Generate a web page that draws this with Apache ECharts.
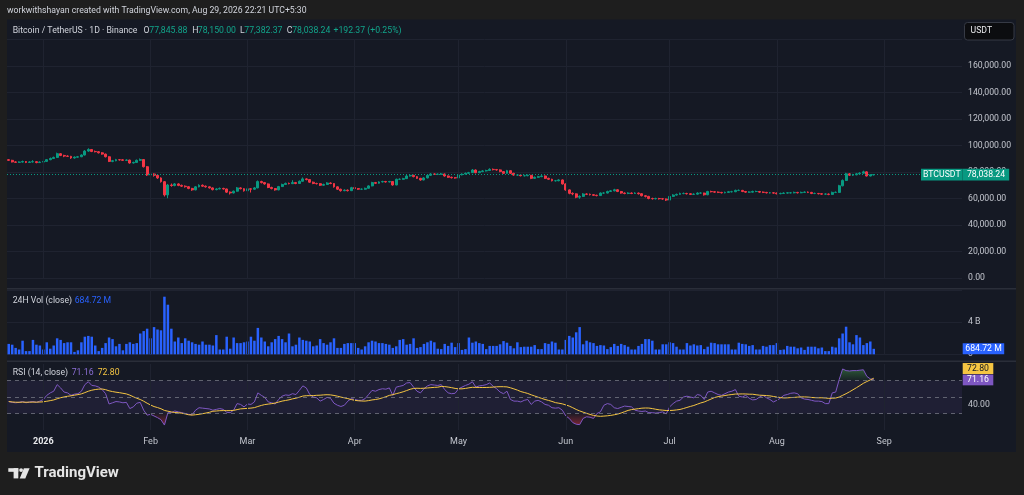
<!DOCTYPE html>
<html><head><meta charset="utf-8">
<script src="https://cdn.jsdelivr.net/npm/echarts@6/dist/echarts.min.js"></script>
<style>html,body{margin:0;padding:0;background:#1e1e1e;}#c{width:1024px;height:495px;}</style>
</head><body><div id="c"></div>
<script>
// ---------- data (prices in thousands USDT, volume in billions) ----------
const startDate = '2025-12-22';
const dayCount = 276;
const monthTicks = ['2026-01-01','2026-02-01','2026-03-01','2026-04-01','2026-05-01','2026-06-01','2026-07-01','2026-08-01','2026-09-01'];
const monthLabels = ['2026','Feb','Mar','Apr','May','Jun','Jul','Aug','Sep'];
const priceTicks = [0,20,40,60,80,100,120,140,160,180];
const firstOpen = 89.3;
const closes = [
88.8,87.6,87.3,87.5,87.9,87.2,87.6,87.8,87.1,87.5,
88.0,89.3,90.2,91.0,93.8,92.5,92.0,91.8,90.6,91.2,
91.5,92.8,95.8,97.0,95.5,95.3,94.5,93.5,91.5,88.0,
88.5,89.3,89.2,88.8,89.0,86.8,87.2,88.8,89.4,84.0,
77.8,78.5,77.5,75.5,72.7,62.7,70.2,69.8,71.0,69.9,
69.3,68.9,67.6,66.5,68.8,70.0,69.3,68.8,68.0,66.7,
67.2,67.6,67.2,64.8,64.2,65.5,68.0,67.4,65.8,67.3,
67.0,68.0,72.8,72.0,71.0,68.3,67.5,66.5,69.0,70.6,
71.4,71.2,72.0,71.3,73.0,74.8,74.3,72.3,71.3,71.2,
70.0,70.6,71.7,71.3,68.8,67.0,65.9,66.3,65.9,68.2,
67.5,67.0,67.0,67.7,69.5,72.0,71.5,72.5,72.8,72.5,
72.8,70.2,74.5,74.5,75.0,77.0,77.5,76.5,75.2,74.0,
75.5,77.5,78.5,78.3,78.3,78.5,77.0,76.0,75.7,75.5,
77.8,78.5,79.0,79.5,81.5,79.5,80.3,80.8,81.1,82.0,
81.8,81.6,80.3,79.0,81.0,79.0,77.7,77.7,77.2,77.2,
77.5,75.2,76.0,76.5,77.0,75.2,74.5,73.4,73.4,74.0,
71.0,66.5,63.9,63.5,61.0,61.6,63.4,63.2,62.9,62.4,
62.2,64.1,64.1,65.3,65.8,66.6,65.3,64.1,63.8,64.1,
63.8,64.1,63.6,62.1,61.6,60.0,59.8,60.0,59.8,59.6,
58.8,61.6,62.6,63.1,63.8,63.8,63.6,63.1,63.3,64.1,
64.1,62.8,65.3,65.1,64.8,64.6,64.3,64.6,65.1,65.1,
66.1,66.1,65.3,64.8,64.8,65.3,65.3,64.8,64.6,64.3,
64.3,64.1,63.6,63.8,64.1,64.3,64.3,64.6,64.3,64.6,
64.8,64.6,63.8,63.8,63.6,63.3,63.3,63.1,64.6,64.6,
69.6,73.6,78.6,77.6,77.9,78.6,79.1,80.1,77.0,77.84588,
78.03824];
const highs = [
89.8,89.2,88.1,88.0,88.6,88.3,88.2,88.9,88.2,88.0,
88.6,89.8,90.9,91.6,94.6,94.3,93.0,92.6,92.2,91.8,
92.1,93.3,96.5,97.9,97.3,96.2,95.8,95.0,93.9,91.9,
89.1,89.9,89.8,89.7,89.6,89.3,87.8,89.4,90.2,89.8,
84.5,79.6,79.0,78.1,76.0,73.2,71.0,71.3,71.7,71.5,
70.5,69.9,69.3,68.0,69.4,70.7,70.6,69.8,69.2,68.4,
67.8,68.3,68.1,67.5,65.3,66.0,68.7,68.5,67.8,67.9,
67.8,68.6,73.6,73.4,72.5,71.4,68.9,67.9,69.5,71.2,
72.0,72.0,73.8,72.5,73.6,75.9,75.3,74.7,72.8,71.9,
71.6,71.2,72.3,72.2,71.6,69.2,67.4,66.9,66.8,68.8,
68.7,67.9,67.6,68.2,70.0,72.6,72.5,73.0,73.4,73.3,
73.3,73.1,75.0,75.2,75.6,77.8,78.2,77.9,76.9,75.6,
76.0,78.0,79.1,78.9,78.9,79.3,78.8,77.4,76.5,76.2,
78.3,79.0,79.6,80.1,82.2,81.9,80.9,81.4,81.7,82.8,
82.6,82.3,82.0,80.7,81.6,81.3,79.4,78.4,78.2,77.9,
78.1,77.8,76.6,77.1,77.6,77.4,75.7,74.9,74.0,74.6,
74.4,71.4,66.9,64.6,63.9,62.4,64.0,63.9,63.7,63.3,
62.9,64.6,64.8,65.9,66.4,67.3,67.0,65.7,64.6,64.7,
64.6,64.7,64.5,64.0,62.6,62.0,60.6,60.6,60.5,60.4,
60.0,62.1,63.2,63.7,64.4,64.5,64.3,64.0,63.9,64.7,
64.7,64.4,65.8,65.9,65.6,65.3,65.0,65.2,65.7,65.8,
66.7,66.8,66.5,65.7,65.4,65.9,65.9,65.7,65.3,65.0,
64.9,64.8,64.5,64.4,64.7,64.9,64.9,65.2,65.0,65.2,
65.4,65.3,65.0,64.4,64.2,64.0,63.9,63.8,65.2,65.3,
70.3,74.4,79.4,79.2,78.6,79.3,79.8,81.0,80.5,78.3,
78.15];
const lows = [
88.3,87.2,86.8,86.9,87.1,86.7,86.9,87.2,86.6,86.8,
87.2,87.7,88.9,89.8,90.7,92.0,91.2,91.3,89.9,90.1,
90.8,91.2,92.5,95.2,95.0,94.8,94.0,93.0,91.0,87.5,
87.4,88.1,88.6,88.3,88.4,86.3,86.4,86.9,88.4,83.4,
77.0,76.8,76.5,74.8,72.0,61.5,60.2,68.9,69.2,69.3,
68.7,68.2,67.0,65.8,66.2,68.4,68.8,68.2,67.5,66.1,
66.2,66.9,66.7,64.2,63.0,63.8,65.2,66.9,65.2,65.4,
64.5,66.6,67.7,71.4,70.4,67.8,66.9,65.9,66.2,68.7,
70.2,70.7,70.9,70.8,71.0,72.7,73.7,71.8,70.8,70.6,
69.4,69.6,70.3,70.8,68.2,66.4,65.2,65.5,65.3,65.6,
67.0,66.5,66.4,66.6,67.4,69.2,71.0,71.2,72.1,72.0,
72.1,69.7,70.0,74.0,74.2,74.7,76.6,76.0,74.7,73.4,
73.7,75.2,77.1,77.8,77.7,77.9,76.5,75.5,75.1,75.0,
75.2,77.4,78.1,78.6,79.2,79.0,79.1,79.9,80.4,80.8,
81.2,81.0,79.8,78.5,78.7,78.5,77.2,77.1,76.7,76.6,
76.8,74.6,74.8,75.6,76.1,74.7,74.0,72.9,72.8,73.0,
70.5,65.9,63.2,62.5,60.2,59.8,61.2,62.6,62.3,61.9,
61.6,61.9,63.5,63.8,64.9,65.4,64.8,63.6,63.2,63.3,
63.3,63.4,63.0,61.6,60.8,59.4,59.2,59.3,59.2,59.0,
58.1,58.5,61.2,62.2,62.8,63.2,63.0,62.6,62.7,62.9,
63.5,62.2,62.5,64.6,64.3,64.1,63.8,63.9,64.2,64.6,
64.8,65.6,64.8,64.3,64.3,64.5,64.8,64.3,64.1,63.8,
63.8,63.6,63.1,63.2,63.4,63.7,63.8,63.9,63.8,64.0,
64.2,64.1,63.3,63.3,63.1,62.8,62.8,62.5,62.8,64.1,
64.3,69.2,73.2,77.0,77.1,77.5,78.2,78.8,76.6,76.7,
77.38237];
const volumes = [
1.3,1.2,0.8,0.6,1.7,0.4,0.4,1.8,1.2,1.1,
0.6,1.5,0.7,1.1,2.0,1.8,1.4,1.5,1.5,0.3,
0.5,1.5,2.2,2.3,2.2,1.1,0.4,0.8,1.4,2.1,
1.9,1.0,1.3,0.5,1.3,1.5,1.3,1.4,2.6,2.9,
3.2,2.0,3.4,3.1,3.0,7.2,6.2,3.2,1.6,2.1,
1.4,2.0,1.7,1.5,1.3,1.2,1.6,1.2,1.2,1.1,
2.4,0.6,0.6,2.2,0.7,2.1,1.4,1.4,1.5,1.6,
2.2,1.7,3.3,2.1,1.6,1.0,1.5,1.9,2.3,1.9,
1.5,2.6,1.0,1.2,2.1,1.8,1.7,1.6,1.0,1.1,
1.9,1.4,1.2,1.5,2.0,0.8,0.8,1.3,1.4,1.4,
1.4,0.8,0.6,1.0,1.5,1.7,1.6,1.4,1.4,1.3,
1.2,0.8,1.0,1.8,1.9,1.2,1.3,2.0,0.8,0.9,
1.3,1.5,1.7,1.5,0.7,0.65,1.3,1.05,1.45,0.9,
1.4,0.55,0.65,2.1,1.45,1.6,1.4,1.3,0.65,1.05,
1.05,1.05,1.25,1.65,1.45,1.05,0.75,1.5,0.9,0.95,
0.95,0.95,1.15,0.65,0.65,1.4,1.3,1.6,1.45,0.6,
0.6,1.8,2.3,2.1,2.75,3.4,1.25,1.7,1.5,1.4,
1.05,1.15,1.1,0.65,0.9,1.3,1.05,1.3,1.15,0.95,
0.6,0.6,1.05,1.3,1.9,1.9,1.7,0.6,0.6,1.25,
1.25,1.5,1.4,0.95,0.6,0.6,1.4,1.1,1.25,1.1,
1.15,0.65,0.95,1.45,1.4,1.25,1.25,1.25,1.25,0.6,
0.6,1.45,1.3,1.25,1.05,1.15,0.6,0.6,1.05,0.95,
1.15,1.15,1.4,0.55,0.6,1.05,0.95,0.95,0.75,0.85,
0.55,0.95,0.95,0.95,0.75,0.85,0.4,0.4,0.95,0.85,
2.0,2.6,3.45,1.5,1.25,2.4,2.1,1.15,1.4,1.6,
0.68472];
const rsi = [
44.5,43.5,43,43.5,44.5,43,44,44.5,43.5,45,
47,52,55,57,65,61,56,55,52,53.5,
54,57,65,68.5,64,63.5,62,59,54,41.5,
43,44.5,44,43,43.5,36,38,42.5,43.5,34,
28,29,27,25,22.5,16,31,31,33,32,
31,30,29,28.5,34,37,36.5,36,35.5,34,
35,36,35,31.5,31,34,42,41,38,41.5,
41,44,55,52,49.5,44,43,41.5,47,51,
52.5,52,54,53,58,63.5,61,53,50,49,
45,47,49.5,48.5,42.5,40,38.5,40,45,48,
47,46,46,48,53,58,57,59,60,59.5,
61,52,62,63,64,67,67.5,62,57,55,
60,63.5,65,64.5,64,65,59,55,54,54.5,
60,62,64,65.5,68.5,62,63.5,64,65,67,
63,60,56,54,57,47,45,45,44,46,
47,41,45,46,44,41,40,37,36.5,37,
34,27,24,19,17,16.5,24,26,25.5,24,
30,32,40,42,41,37,36,37.5,39,38.5,
38,34,33,32.5,33,31,31,30.5,31,32,
29.5,38,42,45,46,50,51,50,49,53,
52,47,56,57,55,53,52,54,56,57,
59,51,50,52,48.5,46.5,47,50,52,49,
47,44,46,48.5,52,53,54.5,55,54,49,
47.5,47,46,45,45,44.5,42,42,55,56,
71,84,82,81.5,82,82,82.5,83,75,72,
71.16];

// ---------- derived tables ----------
const dates = [];
const d0 = new Date(startDate + 'T00:00:00Z');
for (let i = 0; i < dayCount; i++) dates.push(new Date(d0.getTime() + i * 86400000).toISOString().slice(0, 10));
const monthIdx = monthTicks.map(t => dates.indexOf(t));
const labelOf = {};
monthTicks.forEach((t, k) => labelOf[t] = monthLabels[k]);
const candles = closes.map((c, i) => [i === 0 ? firstOpen : closes[i - 1], c, lows[i], highs[i]]);
const rsiMA = rsi.map((v, i) => { const s = rsi.slice(Math.max(0, i - 13), i + 1); return s.reduce((a, b) => a + b, 0) / s.length; });
const rsiOB = rsi.map(v => Math.max(v, 70));
const rsiOS = rsi.map(v => Math.min(v, 30));
const last = closes.length - 1;
const fmt = v => v.toLocaleString('en-US', {minimumFractionDigits: 2, maximumFractionDigits: 2});

const GRID = '#1f2330';
const FONT = 'Roboto';
const vLines = monthIdx.map(i => ({xAxis: i, lineStyle: {color: GRID, width: 1, type: 'solid'}}));
const baseML = {silent: true, symbol: ['none', 'none'], label: {show: false}, animation: false, emphasis: {disabled: true}};

const xAx = k => ({
  type: 'category', gridIndex: k, data: dates, boundaryGap: true,
  axisLine: {show: false}, axisTick: {show: false}, splitLine: {show: false},
  axisPointer: {show: false},
  axisLabel: k === 2 ? {
    show: true, margin: 7, fontSize: 9, fontFamily: FONT, color: '#c3c6ce',
    interval: (idx, val) => labelOf[val] !== undefined,
    formatter: val => labelOf[val] === '2026' ? '{y|2026}' : (labelOf[val] || ''),
    rich: {y: {fontWeight: 'bold', color: '#e8e9ec', fontSize: 9, fontFamily: FONT}}
  } : {show: false}
});

const option = {
  backgroundColor: '#1e1e1e',
  animation: false,
  textStyle: {fontFamily: FONT},
  grid: [
    {left: 7, right: 62, top: 39.5, height: 238.5, outerBoundsMode: 'none'},
    {left: 7, right: 62, top: 290.3, height: 64, outerBoundsMode: 'none'},
    {left: 7, right: 62, top: 364, height: 66, outerBoundsMode: 'none'}
  ],
  xAxis: [xAx(0), xAx(1), xAx(2)],
  yAxis: [
    {type: 'value', gridIndex: 0, position: 'right', min: priceTicks[0], max: priceTicks[priceTicks.length - 1], interval: 20,
     axisLine: {show: false}, axisTick: {show: false},
     axisLabel: {margin: 6, align: 'left', fontSize: 8.7, fontFamily: FONT, color: '#c3c6ce', showMaxLabel: false,
       formatter: v => v >= 180 ? '' : fmt(v * 1000)},
     splitLine: {show: true, lineStyle: {color: GRID, width: 1}}},
    {type: 'value', gridIndex: 1, position: 'right', min: 0, max: 8, interval: 4,
     axisLine: {show: false}, axisTick: {show: false},
     axisLabel: {margin: 6, align: 'left', fontSize: 8.7, fontFamily: FONT, color: '#c3c6ce', showMaxLabel: false,
       formatter: v => v === 4 ? '4 B' : (v === 0 ? '0' : '')},
     splitLine: {show: true, lineStyle: {color: GRID, width: 1}}},
    {type: 'value', gridIndex: 2, position: 'right', min: 10, max: 90, interval: 10,
     axisLine: {show: false}, axisTick: {show: false},
     axisLabel: {margin: 6, align: 'left', fontSize: 8.7, fontFamily: FONT, color: '#c3c6ce',
       formatter: v => v === 40 ? '40.00' : ''},
     splitLine: {show: false}}
  ],
  series: [
    {type: 'candlestick', xAxisIndex: 0, yAxisIndex: 0, data: candles, barWidth: '70%', silent: true,
     itemStyle: {color: '#089981', color0: '#f23645', borderColor: '#089981', borderColor0: '#f23645', borderWidth: 1},
     markLine: Object.assign({}, baseML, {data: vLines.concat([{yAxis: closes[last], lineStyle: {color: '#089981', width: 1, type: [1, 2]}}])})},
    {type: 'bar', xAxisIndex: 1, yAxisIndex: 1, data: volumes, barWidth: '72%', silent: true,
     itemStyle: {color: '#2962ff'},
     markLine: Object.assign({}, baseML, {data: vLines})},
    {type: 'line', xAxisIndex: 2, yAxisIndex: 2, data: rsiOS, symbol: 'none', silent: true, z: 2,
     lineStyle: {width: 0}, areaStyle: {origin: 30, color: new echarts.graphic.LinearGradient(0, 0, 0, 1, [
       {offset: 0, color: 'rgba(242,54,69,0.05)'}, {offset: 1, color: 'rgba(242,54,69,0.65)'}])}},
    {type: 'line', xAxisIndex: 2, yAxisIndex: 2, data: rsiOB, symbol: 'none', silent: true, z: 2,
     lineStyle: {width: 0}, areaStyle: {origin: 70, color: new echarts.graphic.LinearGradient(0, 0, 0, 1, [
       {offset: 0, color: 'rgba(76,175,80,0.6)'}, {offset: 1, color: 'rgba(76,175,80,0.08)'}])}},
    {type: 'line', xAxisIndex: 2, yAxisIndex: 2, data: rsi, symbol: 'none', silent: true, z: 3,
     lineStyle: {color: '#7e57c2', width: 1},
     markArea: {silent: true, itemStyle: {color: 'rgba(126,87,194,0.1)'}, data: [[{yAxis: 30}, {yAxis: 70}]]},
     markLine: Object.assign({}, baseML, {data: vLines.concat([70, 50, 30].map(v => ({yAxis: v, lineStyle: {color: 'rgba(120,123,134,0.75)', width: 1, type: [4, 4]}})))})},
    {type: 'line', xAxisIndex: 2, yAxisIndex: 2, data: rsiMA, symbol: 'none', silent: true, z: 4,
     lineStyle: {color: '#f5c542', width: 1}}
  ]
};

const chart = echarts.init(document.getElementById('c'));
chart.setOption(option);

// ---------- overlay texts / labels ----------
function txt(x, y, s, fill, font, align) {
  return {type: 'text', x: x, y: y, z: 60, silent: true,
    style: {text: s, fill: fill, font: font, textAlign: align || 'left', textVerticalAlign: 'middle', align: align || 'left', verticalAlign: 'middle'}};
}
function box(x, y, w, h, fill) {
  return {type: 'rect', z: 55, silent: true, shape: {x: x, y: y, width: w, height: h}, style: {fill: fill}};
}
const F = '8.7px ' + FONT;
const UP = '#12a58b';
const pY = chart.convertToPixel({yAxisIndex: 0}, closes[last]);
const vY = chart.convertToPixel({yAxisIndex: 1}, volumes[last]);
const rY = chart.convertToPixel({yAxisIndex: 2}, rsi[last]);
const G = [
  {type: 'rect', z: -100, silent: true, shape: {x: 7, y: 19.5, width: 1009, height: 432.5}, style: {fill: '#151924'}},
  {type: 'line', z: 50, silent: true, shape: {x1: 7, y1: 288.8, x2: 1016, y2: 288.8}, style: {stroke: '#2a2e39', lineWidth: 1.5}},
  {type: 'line', z: 50, silent: true, shape: {x1: 7, y1: 361.2, x2: 1016, y2: 361.2}, style: {stroke: '#2a2e39', lineWidth: 1.5}},
  txt(7, 11, 'workwithshayan created with TradingView.com, Aug 29, 2026 22:21 UTC+5:30', '#d1d4dc', F),
  txt(12.7, 31, 'Bitcoin / TetherUS · 1D · Binance', '#d1d4dc', F),
  txt(143.5, 31, 'O', '#d1d4dc', F), txt(149.3, 31, fmt(candles[last][0] * 1000), UP, F),
  txt(192.3, 31, 'H', '#d1d4dc', F), txt(197.8, 31, fmt(highs[last] * 1000), UP, F),
  txt(240, 31, 'L', '#d1d4dc', F), txt(244.3, 31, fmt(lows[last] * 1000), UP, F),
  txt(286.7, 31, 'C', '#d1d4dc', F), txt(292.2, 31, fmt(closes[last] * 1000), UP, F),
  txt(333.5, 31, '+192.37 (+0.25%)', UP, F),
  txt(12.7, 300.5, '24H Vol (close)', '#d1d4dc', F),
  txt(74.7, 300.5, fmt(volumes[last] * 1000) + ' M', '#2962ff', F),
  txt(12.7, 372.7, 'RSI (14, close)', '#d1d4dc', F),
  txt(71.7, 372.7, rsi[last].toFixed(2), '#8c6fd6', F),
  txt(97.7, 372.7, rsiMA[last].toFixed(2), '#f5c542', F),
  // USDT button
  {type: 'rect', z: 55, silent: true, shape: {x: 964.5, y: 22.5, width: 49.5, height: 17.5, r: 3}, style: {fill: '#0c0d10', stroke: '#363a45', lineWidth: 1}},
  txt(970.5, 31.3, 'USDT', '#e8e9ec', F),
  // last price labels
  box(921, pY - 5.8, 41.7, 11.8, '#089981'), txt(941.8, pY + 0.2, 'BTCUSDT', '#ffffff', F, 'center'),
  box(962.7, pY - 5.8, 46.5, 11.8, '#089981'), txt(986, pY + 0.2, fmt(closes[last] * 1000), '#ffffff', F, 'center'),
  box(962.7, vY - 5.5, 41.5, 11, '#2962ff'), txt(983.5, vY + 0.2, fmt(volumes[last] * 1000) + ' M', '#ffffff', F, 'center'),
  box(962.7, rY - 5, 30.6, 10.8, '#7e57c2'), txt(978, rY + 0.4, rsi[last].toFixed(2), '#ffffff', F, 'center'),
  box(962.7, rY - 16.5, 30.6, 11, '#f5c542'), txt(978, rY - 10.9, rsiMA[last].toFixed(2), '#131722', F, 'center'),
  // footer logo
  {type: 'rect', z: 55, silent: true, shape: {x: 8.3, y: 468.2, width: 10, height: 3.6}, style: {fill: '#e6e6e6'}},
  {type: 'rect', z: 55, silent: true, shape: {x: 13.6, y: 468.2, width: 4.7, height: 10.2}, style: {fill: '#e6e6e6'}},
  {type: 'circle', z: 55, silent: true, shape: {cx: 21.1, cy: 470.1, r: 1.9}, style: {fill: '#e6e6e6'}},
  {type: 'polygon', z: 55, silent: true, shape: {points: [[23.9, 468.2], [29.6, 468.2], [25.3, 478.4], [19.7, 478.4]]}, style: {fill: '#e6e6e6'}},
  txt(34.5, 473.2, 'TradingView', '#e6e6e6', 'bold 15px ' + FONT)
];
chart.setOption({graphic: G});
</script></body></html>
